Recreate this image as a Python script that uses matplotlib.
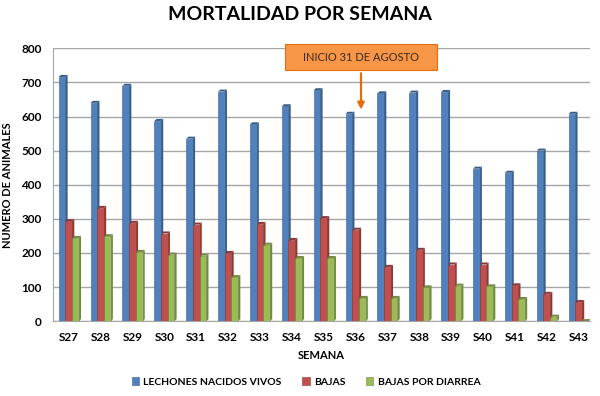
import numpy as np
import matplotlib.pyplot as plt
from matplotlib.patches import Polygon, Rectangle

plt.rcParams['font.family'] = ['Lato', 'DejaVu Sans']

# Datos por semana
semanas = ["S27", "S28", "S29", "S30", "S31", "S32", "S33", "S34", "S35",
           "S36", "S37", "S38", "S39", "S40", "S41", "S42", "S43"]
nacidos_vivos = [716, 640, 690, 587, 535, 673, 577, 630, 677,
                 608, 668, 670, 672, 447, 435, 500, 608]
bajas = [293, 332, 288, 257, 283, 200, 285, 238, 302,
         268, 159, 209, 166, 166, 105, 80, 56]
bajas_diarrea = [244, 249, 203, 195, 192, 129, 224, 185, 185,
                 68, 68, 99, 104, 102, 65, 13, 0]

series = [
    ("LECHONES NACIDOS VIVOS", nacidos_vivos, "#4F81BD", "#385D8A"),
    ("BAJAS", bajas, "#C0504D", "#8C3836"),
    ("BAJAS POR DIARREA", bajas_diarrea, "#9BBB59", "#71893F"),
]

fig = plt.figure(figsize=(6, 3.96), dpi=100)
ax = fig.add_axes([0.088, 0.189, 0.895, 0.689])

x = np.arange(len(semanas))
w = 0.21
depth_x = 0.07
depth_y = 6

for i, (name, vals, col, dark) in enumerate(series):
    xs = x + (i - 1) * w
    ax.bar(xs, vals, width=w, color=col, edgecolor=dark, linewidth=0.4,
           label=name, zorder=3)
    # cara lateral y superior para efecto 3D
    for xi, v in zip(xs, vals):
        r = xi + w / 2
        side = Polygon([(r, 0), (r + depth_x, depth_y), (r + depth_x, v + depth_y), (r, v)],
                       closed=True, facecolor=dark, edgecolor='none', zorder=2.9)
        top = Polygon([(r - w, v), (r - w + depth_x, v + depth_y), (r + depth_x, v + depth_y), (r, v)],
                      closed=True, facecolor=dark, edgecolor='none', zorder=2.9)
        ax.add_patch(side)
        ax.add_patch(top)

ax.set_xlim(-0.5, 16.35)
ax.set_ylim(0, 800)
ax.set_yticks(range(0, 801, 100))
ax.set_xticks(x)
ax.set_xticklabels(semanas, fontweight="bold")
ax.set_yticklabels([str(v) for v in range(0, 801, 100)], fontweight="bold")
ax.yaxis.grid(True, color="#A6A6A6", linewidth=1.0, zorder=0)
ax.set_axisbelow(True)
for s in ["top", "right"]:
    ax.spines[s].set_visible(False)
ax.spines["left"].set_color("#A6A6A6")
ax.spines["bottom"].set_color("#A6A6A6")
ax.tick_params(axis="both", length=0, labelsize=8.5, colors="black")
ax.tick_params(axis="x", pad=8)
ax.tick_params(axis="y", pad=8)

ax.set_xlabel("SEMANA", fontsize=8, fontweight="bold", labelpad=5)
ax.set_ylabel("NUMERO DE ANIMALES", fontsize=8, fontweight="bold", labelpad=6)

fig.suptitle("MORTALIDAD POR SEMANA", fontsize=14, fontweight="bold", y=0.985)

# Caja de anotación
box = Rectangle((6.8, 735), 4.75, 78, facecolor="#F79646", edgecolor="#E46C0A",
                linewidth=0.8, zorder=5, clip_on=False)
ax.add_patch(box)
ax.text(9.17, 774, "INICIO 31 DE AGOSTO", ha="center", va="center", fontsize=8,
        color="#3a2a1a", zorder=6)
ax.annotate("", xy=(9.17, 612), xytext=(9.17, 735),
            arrowprops=dict(arrowstyle="-|>", color="#E46C0A", lw=1.6,
                            mutation_scale=10), zorder=6)

leg = fig.legend(loc="lower center", bbox_to_anchor=(0.51, 0.0), ncol=3,
                 frameon=False, prop={"weight": "bold", "size": 7.5},
                 handlelength=0.7, handleheight=0.7,
                 columnspacing=2.0, handletextpad=0.4)

fig.savefig("out.png", dpi=100)
